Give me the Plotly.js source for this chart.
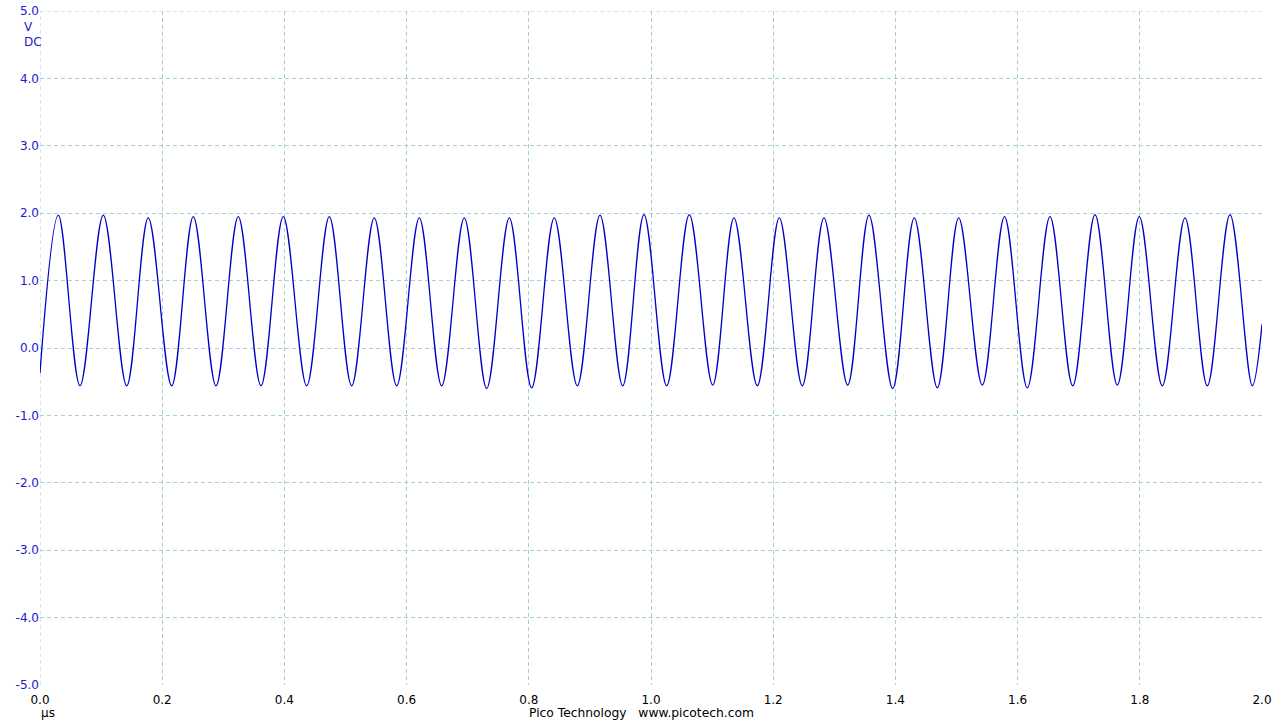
<!DOCTYPE html>
<html>
<head>
<meta charset="utf-8">
<script src="https://cdn.plot.ly/plotly-3.0.1.min.js"></script>
<style>
  html, body { margin: 0; padding: 0; background: #ffffff; }
  #chart { width: 1280px; height: 720px; }
</style>
</head>
<body>
<div id="chart"></div>
<script>
// Values (time in µs, voltage in V)
const startPoint = [0.0, -0.37];
const endPoint = [2.0, 0.35];

const peakTimes = [0.0300, 0.1036, 0.1772, 0.2509, 0.3245, 0.3982, 0.4735, 0.5471, 0.6208,
  0.6944, 0.7681, 0.8417, 0.9165, 0.9885, 1.0627, 1.1358, 1.2100, 1.2831, 1.3568,
  1.4309, 1.5036, 1.5786, 1.6530, 1.7267, 1.7992, 1.8740, 1.9476];
const peakVolts = [1.97, 1.97, 1.93, 1.95, 1.95, 1.95, 1.95, 1.93, 1.93,
  1.93, 1.93, 1.93, 1.97, 1.98, 1.98, 1.93, 1.93, 1.93, 1.97,
  1.93, 1.93, 1.95, 1.95, 1.98, 1.95, 1.93, 1.98];

const troughTimes = [0.0655, 0.1419, 0.2155, 0.2881, 0.3617, 0.4365, 0.5101, 0.5838, 0.6574,
  0.7311, 0.8047, 0.8794, 0.9537, 1.0257, 1.1010, 1.1740, 1.2476, 1.3219, 1.3956,
  1.4686, 1.5422, 1.6159, 1.6902, 1.7632, 1.8368, 1.9105, 1.9841];
const troughVolts = [-0.56, -0.56, -0.56, -0.56, -0.56, -0.56, -0.56, -0.56, -0.56,
  -0.60, -0.59, -0.56, -0.56, -0.56, -0.55, -0.56, -0.56, -0.55, -0.60,
  -0.59, -0.55, -0.59, -0.56, -0.55, -0.56, -0.56, -0.56];

const xTickVals = [0.0, 0.2, 0.4, 0.6, 0.8, 1.0, 1.2, 1.4, 1.6, 1.8, 2.0];
const yTickVals = [-5, -4, -3, -2, -1, 0, 1, 2, 3, 4, 5];

// Build the trace in time order from the read extrema
const tx = [startPoint[0]];
const ty = [startPoint[1]];
for (let i = 0; i < peakTimes.length; i++) {
  tx.push(peakTimes[i]); ty.push(peakVolts[i]);
  tx.push(troughTimes[i]); ty.push(troughVolts[i]);
}
tx.push(endPoint[0]); ty.push(endPoint[1]);

const gridColor = '#a9cfd8';
const font = 'DejaVu Sans, Verdana, sans-serif';
const dash = '4px,3px';

const trace = {
  x: tx, y: ty, type: 'scatter', mode: 'lines',
  line: { color: '#0000c8', width: 1.3, shape: 'spline', smoothing: 1.0 },
  hoverinfo: 'skip', cliponaxis: true
};

const layout = {
  width: 1280, height: 720,
  margin: { l: 40, r: 18, t: 11, b: 35, pad: 0 },
  paper_bgcolor: '#ffffff', plot_bgcolor: '#ffffff',
  showlegend: false,
  font: { family: font, size: 12, color: '#000000' },
  xaxis: {
    range: [0, 2.0], tickvals: xTickVals, ticktext: xTickVals.map(v => v.toFixed(1)),
    showgrid: true, gridcolor: gridColor, gridwidth: 1, griddash: dash,
    zeroline: false, showline: false, ticks: '', automargin: false, ticklabelstandoff: 6,
    tickfont: { family: font, size: 12, color: '#000000' }, fixedrange: true
  },
  yaxis: {
    range: [-5, 5], tickvals: yTickVals, ticktext: yTickVals.map(v => v.toFixed(1)),
    showgrid: true, gridcolor: gridColor, gridwidth: 1, griddash: dash,
    zeroline: false, showline: false, ticks: '', automargin: false,
    tickfont: { family: font, size: 12, color: '#1a1acc' }, fixedrange: true
  },
  shapes: [
    { type: 'line', xref: 'x', yref: 'y', x0: 0, x1: 0, y0: -5, y1: 5, layer: 'below',
      line: { color: gridColor, width: 1, dash: dash } },
    { type: 'line', xref: 'x', yref: 'y', x0: 0, x1: 2, y0: 5, y1: 5, layer: 'below',
      line: { color: gridColor, width: 1, dash: dash } }
  ],
  annotations: [
    { text: 'V', xref: 'paper', yref: 'paper', x: 0, y: 1, xshift: -12, yshift: -16,
      showarrow: false, xanchor: 'center', yanchor: 'middle', font: { family: font, size: 12, color: '#1a1acc' } },
    { text: 'DC', xref: 'paper', yref: 'paper', x: 0, y: 1, xshift: -7, yshift: -31,
      showarrow: false, xanchor: 'center', yanchor: 'middle', font: { family: font, size: 12, color: '#1a1acc' } },
    { text: 'µs', xref: 'paper', yref: 'paper', x: 0, y: 0, xshift: 8, yshift: -28,
      showarrow: false, xanchor: 'center', yanchor: 'middle', font: { family: font, size: 12, color: '#000000' } },
    { text: 'Pico Technology&nbsp;&nbsp;&nbsp;www.picotech.com', xref: 'paper', yref: 'paper', x: 0.5, y: 0, xshift: -10, yshift: -28,
      showarrow: false, xanchor: 'center', yanchor: 'middle', font: { family: font, size: 12.3, color: '#000000' } }
  ]
};

Plotly.newPlot('chart', [trace], layout, { displayModeBar: false, staticPlot: true });
</script>
</body>
</html>
